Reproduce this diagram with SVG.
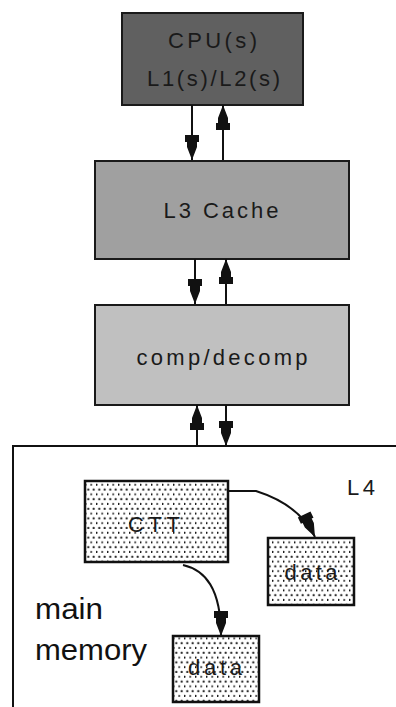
<svg xmlns="http://www.w3.org/2000/svg" width="396" height="707" viewBox="0 0 396 707">
  <style>
    .box { stroke: #1a1a1a; stroke-width: 2; }
    .lbl { font-family: "Liberation Sans", Arial, sans-serif; font-size: 22px; fill: #1a1a1a; text-anchor: middle; }
    .big { font-family: "Liberation Sans", Arial, sans-serif; font-size: 30px; fill: #111; }
    .wire { fill: none; stroke: #111; stroke-width: 2; marker-end: url(#head); }
    .dotted { fill: url(#dots); stroke: #111; stroke-width: 2.5; }
  </style>
  <defs>
    <marker id="head" viewBox="-27 -8 29 16" markerWidth="29" markerHeight="16" refX="0" refY="0" orient="auto" markerUnits="userSpaceOnUse" overflow="visible">
      <path d="M0,0 L-13,-5 L-18,-5 L-18,-7 L-25,-7 L-25,7 L-18,7 L-18,5 L-13,5 Z" fill="#111"/>
    </marker>
    <pattern id="dots" x="85" y="481" width="5.5" height="9.6" patternUnits="userSpaceOnUse">
      <rect width="5.5" height="9.6" fill="#fff"/>
      <circle cx="0.5" cy="3.8" r="1.05" fill="#111"/>
      <circle cx="3.25" cy="8.6" r="1.05" fill="#111"/>
    </pattern>
  </defs>

  <rect width="396" height="707" fill="#fff"/>

  <!-- main memory region: only its top and left edges are in frame -->
  <g id="main-memory">
    <path d="M13,707 L13,446 L396,446" fill="none" stroke="#111" stroke-width="2"/>
    <text class="big" x="35" y="619" textLength="68" lengthAdjust="spacingAndGlyphs">main</text>
    <text class="big" x="35" y="660" textLength="112" lengthAdjust="spacingAndGlyphs">memory</text>
    <text class="lbl" x="361" y="495" textLength="28" lengthAdjust="spacing">L4</text>
  </g>

  <g id="cpu">
    <rect class="box" x="122" y="13" width="181" height="92" fill="#606060"/>
    <text class="lbl" x="212.5" y="48" textLength="89" lengthAdjust="spacing">CPU(s)</text>
    <text class="lbl" x="213.5" y="86" textLength="133" lengthAdjust="spacing">L1(s)/L2(s)</text>
  </g>

  <g id="l3-cache">
    <rect class="box" x="95" y="161" width="254" height="98" fill="#a0a0a0"/>
    <text class="lbl" x="221" y="218" textLength="115" lengthAdjust="spacing">L3 Cache</text>
  </g>

  <g id="comp-decomp">
    <rect class="box" x="95" y="305" width="254" height="100" fill="#c0c0c0"/>
    <text class="lbl" x="222" y="365" textLength="171" lengthAdjust="spacing">comp/decomp</text>
  </g>

  <g id="ctt">
    <rect class="dotted" x="85" y="481" width="143" height="81"/>
    <text class="lbl" x="154" y="532" textLength="52" lengthAdjust="spacing">CTT</text>
  </g>

  <g id="data-1">
    <rect class="dotted" x="268" y="538" width="86" height="67"/>
    <text class="lbl" x="311" y="580" textLength="53" lengthAdjust="spacing">data</text>
  </g>

  <g id="data-2">
    <rect class="dotted" x="173" y="636" width="86" height="66"/>
    <text class="lbl" x="215" y="675" textLength="54" lengthAdjust="spacing">data</text>
  </g>

  <g id="connectors">
    <path class="wire" d="M192,105 L192,160"/>
    <path class="wire" d="M223,160 L223,105"/>
    <path class="wire" d="M195,259 L195,304"/>
    <path class="wire" d="M226,304 L226,259"/>
    <path class="wire" d="M197,446 L197,405"/>
    <path class="wire" d="M226,405 L226,446"/>
    <path class="wire" d="M228,491 L256,491 C278,498 302,510 315,537"/>
    <path class="wire" d="M183,565 C205,570 221,588 221,636"/>
  </g>
</svg>
